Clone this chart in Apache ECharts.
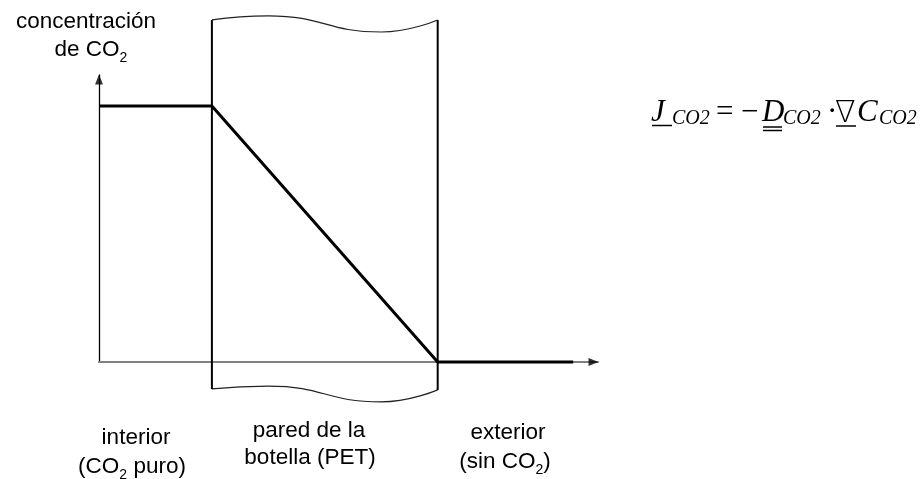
<!DOCTYPE html>
<html>
<head>
<meta charset="utf-8">
<script src="https://cdn.jsdelivr.net/npm/echarts@6/dist/echarts.min.js"></script>
<style>html,body{margin:0;padding:0;background:#fff;}#c{width:923px;height:479px;}</style>
</head>
<body>
<div id="c"></div>
<script>
// ---- data ----
const profileX = [0, 1, 3, 4.2];          // position: interior | wall | exterior
const profileY = [1, 1, 0, 0];            // CO2 concentration (relative)
const wallX = [1, 3];                     // wall boundaries
const wallTopX = [1, 1.5, 2.5, 3];
const wallTopY = [1.336, 1.352, 1.289, 1.336];
const wallBotX = [1, 1.5, 2.5, 3];
const wallBotY = [-0.105, -0.094, -0.156, -0.109];
const xAxisMax = 4.42;
const yAxisMax = 1.121;
const yLabelLines = ['concentración', 'de CO{s|2}'];
const regionLabels = [
  ['interior', '({m|CO}{s|2}{m| puro)}'],
  ['pared de la', 'botella (PET)'],
  ['exterior', '{m|(sin CO}{s|2}{m|)}']
];

const chart = echarts.init(document.getElementById('c'));
const zip = (xs, ys) => xs.map((x, i) => [x, ys[i]]);

const sans = 'Liberation Sans, Arial, sans-serif';
const serif = 'Liberation Serif, Times New Roman, serif';
const rich = {
  m: { fontSize: 22.5, fontFamily: sans, color: '#000', lineHeight: 30 },
  s: { fontSize: 14, fontFamily: sans, color: '#000', lineHeight: 18, verticalAlign: 'bottom' }
};
function label(text, x, y) {
  const t = text.indexOf('{') >= 0 ? text.replace(/^([^{]+)\{/, '{m|$1}{') : '{m|' + text + '}';
  return { type: 'text', x: x, y: y, z: 10,
    style: { text: t, rich: rich, align: 'center', verticalAlign: 'middle', fill: '#000' } };
}
const g = [];
g.push(label(yLabelLines[0], 86, 22));
g.push(label(yLabelLines[1], 91, 50));
const regCx = [[136, 132], [309, 310], [508, 505]];
const regY = [[438, 467], [431, 458], [433, 462]];
regionLabels.forEach((l, i) => {
  g.push(label(l[0], regCx[i][0], regY[i][0]));
  g.push(label(l[1], regCx[i][1], regY[i][1]));
});
// formula
function ft(text, x, y, size, italic, fam, weight) {
  return { type: 'text', x: x, y: y, z: 10,
    style: { text: text, fontSize: size, fontFamily: fam || serif, fontStyle: italic ? 'italic' : 'normal',
      fontWeight: weight || 'normal', fill: '#000', align: 'left', verticalAlign: 'middle' } };
}
const mainY = 113, subY = 119;
g.push(ft('J', 651, mainY, 31, true));
g.push(ft('CO2', 672, subY, 20, true));
g.push(ft('=', 716, mainY, 31, false));
g.push(ft('\u2212', 741, mainY, 31, false));
g.push(ft('D', 762, mainY, 31, true));
g.push(ft('CO2', 783, subY, 20, true));
g.push(ft('\u00B7', 827, mainY, 31, false));
g.push(ft('\u2207', 835, mainY + 1, 30, false, 'DejaVu Sans', 200));
g.push(ft('C', 857, mainY, 31, true));
g.push(ft('CO2', 879, subY, 20, true));
function ul(x1, x2, y) {
  return { type: 'line', z: 10, shape: { x1: x1, y1: y, x2: x2, y2: y }, style: { stroke: '#000', lineWidth: 1.5 } };
}
g.push(ul(652, 672, 125.5));
g.push(ul(763, 782, 127));
g.push(ul(763, 782, 130.5));
g.push(ul(836, 856, 126));

const base = { type: 'line', symbol: 'none', silent: true, clip: false, animation: false };
chart.setOption({
  animation: false,
  grid: { left: 99, top: 75, width: 499, height: 287 },
  xAxis: { type: 'value', min: 0, max: xAxisMax, axisLine: { lineStyle: { color: '#808080', width: 2 } },
    axisTick: { show: false }, axisLabel: { show: false }, splitLine: { show: false } },
  yAxis: { type: 'value', min: 0, max: yAxisMax, axisLine: { show: true, lineStyle: { color: '#000', width: 1.3 } },
    axisTick: { show: false }, axisLabel: { show: false }, splitLine: { show: false } },
  graphic: g,
  series: [
    Object.assign({}, base, { data: zip(wallTopX, wallTopY), smooth: 0.5, lineStyle: { color: '#222', width: 1.2 } }),
    Object.assign({}, base, { data: zip(wallBotX, wallBotY), smooth: 0.5, lineStyle: { color: '#222', width: 1.2 } }),
    Object.assign({}, base, { data: [[wallX[0], wallBotY[0]], [wallX[0], wallTopY[0]]], lineStyle: { color: '#000', width: 2 } }),
    Object.assign({}, base, { data: [[wallX[1], wallBotY[3]], [wallX[1], wallTopY[3]]], lineStyle: { color: '#000', width: 2 } }),
    Object.assign({}, base, { data: zip(profileX, profileY), lineStyle: { color: '#000', width: 3 }, z: 5 }),
    { type: 'scatter', silent: true, symbol: 'triangle', symbolSize: [8, 10], itemStyle: { color: '#000' },
      data: [[0, yAxisMax - 0.018]], z: 6 },
    { type: 'scatter', silent: true, symbol: 'triangle', symbolSize: [8, 10], symbolRotate: -90, itemStyle: { color: '#000' },
      data: [[xAxisMax - 0.04, 0]], z: 6 }
  ]
});
</script>
</body>
</html>
